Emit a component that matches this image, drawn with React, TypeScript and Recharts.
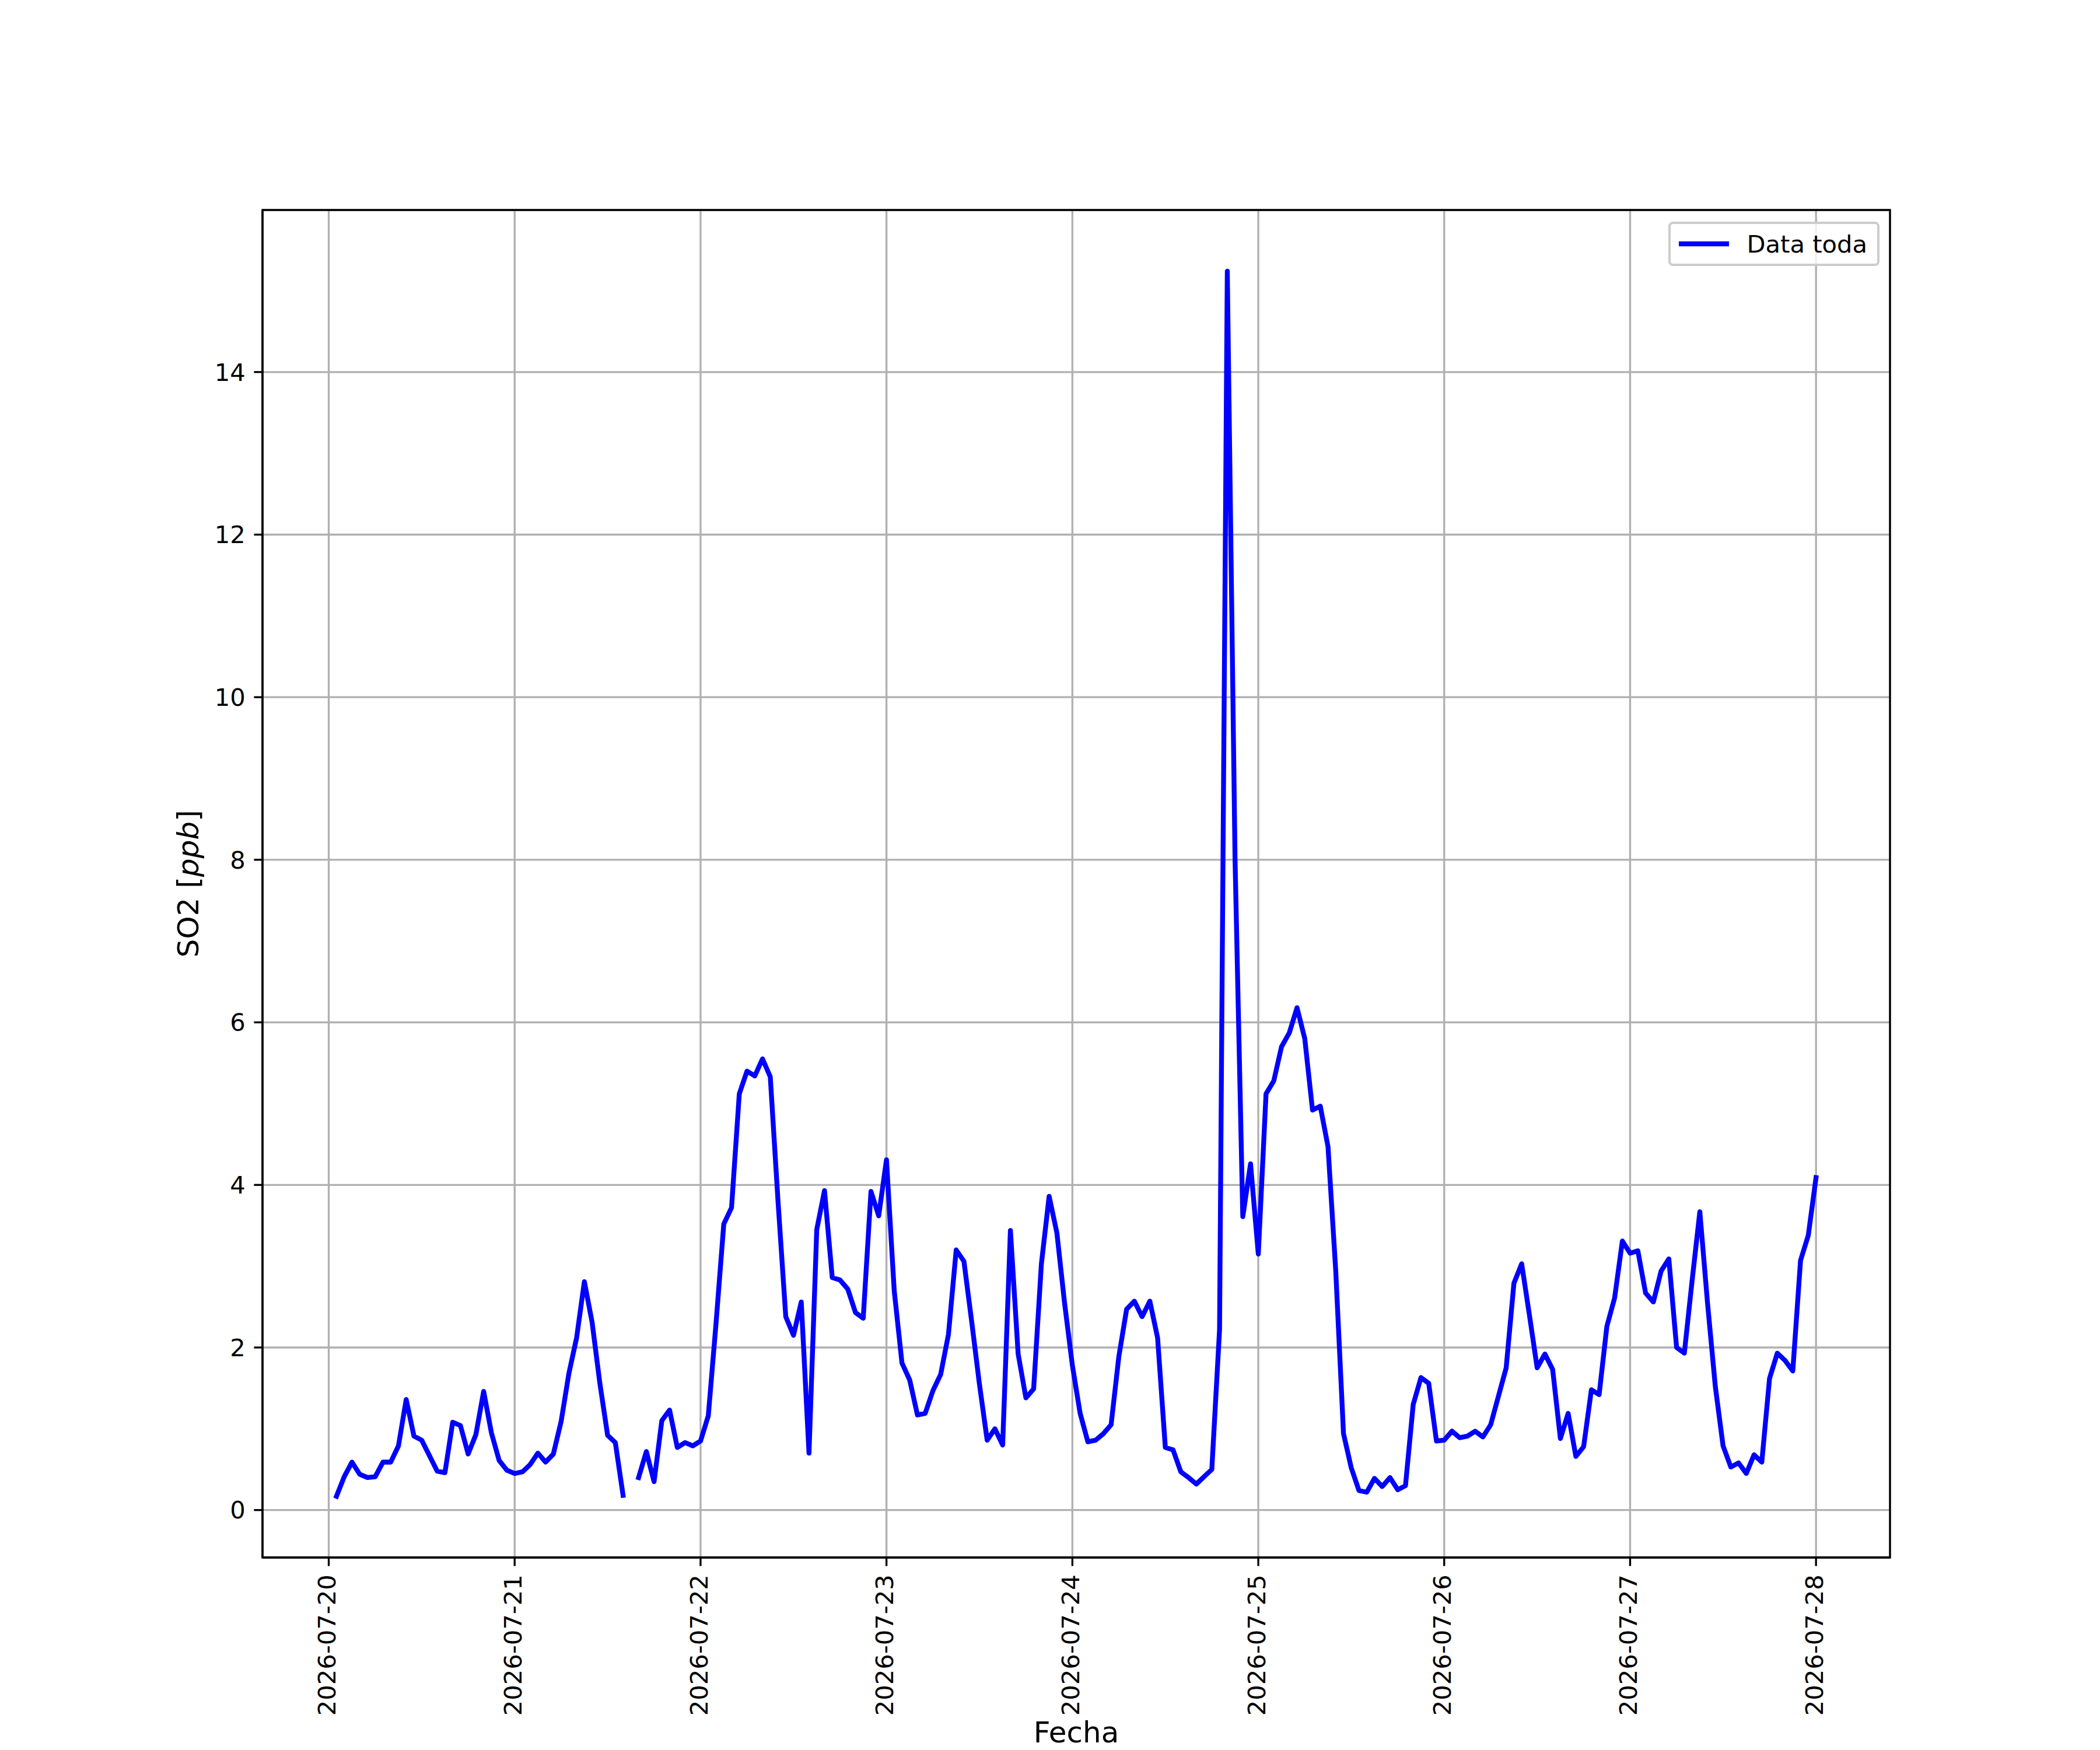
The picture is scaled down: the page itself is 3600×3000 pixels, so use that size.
import { LineChart, Line, XAxis, YAxis, CartesianGrid, Legend, ReferenceArea } from 'recharts';

const FONT = '"DejaVu Sans", sans-serif';
const FS = 41.67;
const LABEL_FS = 50;
const LINE_W = 8.33;

// hourly SO2 readings (ppb), one array per day, first value at 01:00
const jul20 = [0.17, 0.41, 0.59, 0.44, 0.40, 0.41, 0.59, 0.59, 0.79, 1.36, 0.91, 0.86, 0.67, 0.48, 0.46, 1.08, 1.04, 0.69, 0.93, 1.46, 0.95, 0.61, 0.49, 0.45];
const jul21 = [0.47, 0.56, 0.70, 0.59, 0.69, 1.09, 1.68, 2.12, 2.81, 2.31, 1.56, 0.92, 0.83, 0.18, null, 0.40, 0.72, 0.35, 1.10, 1.23, 0.77, 0.83, 0.79, 0.85];
const jul22 = [1.16, 2.30, 3.52, 3.72, 5.12, 5.40, 5.34, 5.55, 5.33, 3.80, 2.38, 2.15, 2.56, 0.70, 3.45, 3.93, 2.86, 2.83, 2.72, 2.43, 2.36, 3.92, 3.62, 4.31];
const jul23 = [2.70, 1.81, 1.60, 1.17, 1.19, 1.47, 1.67, 2.16, 3.20, 3.06, 2.32, 1.55, 0.86, 1.00, 0.80, 3.44, 1.92, 1.38, 1.49, 3.03, 3.86, 3.41, 2.54, 1.78];
const jul24 = [1.19, 0.84, 0.86, 0.94, 1.05, 1.89, 2.47, 2.57, 2.38, 2.57, 2.12, 0.77, 0.74, 0.47, 0.40, 0.32, 0.41, 0.50, 2.22, 15.24, 8.00, 3.61, 4.26, 3.15];
const jul25 = [5.12, 5.28, 5.70, 5.87, 6.18, 5.80, 4.92, 4.97, 4.47, 2.94, 0.94, 0.52, 0.24, 0.22, 0.39, 0.29, 0.40, 0.25, 0.30, 1.30, 1.63, 1.56, 0.85, 0.86];
const jul26 = [0.97, 0.89, 0.91, 0.97, 0.90, 1.05, 1.40, 1.75, 2.79, 3.03, 2.40, 1.75, 1.92, 1.73, 0.88, 1.19, 0.66, 0.78, 1.48, 1.42, 2.26, 2.61, 3.31, 3.16];
const jul27 = [3.19, 2.67, 2.56, 2.94, 3.09, 2.00, 1.93, 2.82, 3.67, 2.54, 1.52, 0.79, 0.53, 0.58, 0.45, 0.68, 0.59, 1.62, 1.93, 1.84, 1.71, 3.07, 3.38, 4.09];

const dateLabels = ['2026-07-20', '2026-07-21', '2026-07-22', '2026-07-23', '2026-07-24', '2026-07-25', '2026-07-26', '2026-07-27', '2026-07-28'];
const yTicks = [0, 2, 4, 6, 8, 10, 12, 14];

const values = [...jul20, ...jul21, ...jul22, ...jul23, ...jul24, ...jul25, ...jul26, ...jul27];
// x = hours since 2026-07-20 00:00
const data = values.map((v, i) => ({ h: i + 1, so2: v }));
const xTicks = dateLabels.map((_, i) => i * 24);

// matplotlib-style 5% autoscale margins
const nums = values.filter((v): v is number => v !== null);
const xMin = 1, xMax = values.length;
const yMin = Math.min(...nums), yMax = Math.max(...nums);
const xPad = (xMax - xMin) * 0.05, yPad = (yMax - yMin) * 0.05;
const xDomain: [number, number] = [xMin - xPad, xMax + xPad];
const yDomain: [number, number] = [yMin - yPad, yMax + yPad];

const DateTick = (props: any) => {
  const { x, y, payload } = props;
  return (
    <text
      x={x}
      y={y}
      transform={`rotate(-90, ${x}, ${y})`}
      textAnchor="end"
      dy="0.28em"
      fontSize={FS}
      fontFamily={FONT}
      fill="#000"
    >
      {dateLabels[Math.round(payload.value / 24)]}
    </text>
  );
};

const YLabel = () => (
  <text
    x={340}
    y={1515}
    transform="rotate(-90, 340, 1515)"
    textAnchor="middle"
    fontSize={LABEL_FS}
    fontFamily={FONT}
    fill="#000"
  >
    SO2 [<tspan fontStyle="italic">ppb</tspan>]
  </text>
);

const LegendBox = () => (
  <div
    style={{
      boxSizing: 'border-box',
      border: '4px solid #cccccc',
      borderRadius: 8,
      background: 'rgba(255,255,255,0.8)',
      height: 76,
      padding: '0 17px 0 14px',
      display: 'flex',
      alignItems: 'center',
      fontFamily: FONT,
      fontSize: FS,
      color: '#000',
      whiteSpace: 'nowrap',
    }}
  >
    <svg width={86} height={20} style={{ display: 'block' }}>
      <line x1={0} y1={10} x2={86} y2={10} stroke="#0000ff" strokeWidth={LINE_W} />
    </svg>
    <span style={{ marginLeft: 31 }}>Data toda</span>
  </div>
);

export default function App() {
  return (
    <div style={{ position: 'absolute', left: 0, top: 0, width: 3600, height: 3000, background: '#fff' }}>
      <LineChart width={3600} height={3000} data={data} margin={{ top: 360, right: 360, bottom: 0, left: 0 }}>
        <CartesianGrid stroke="#b0b0b0" strokeWidth={3.33} />
        <XAxis
          dataKey="h"
          type="number"
          domain={xDomain}
          allowDataOverflow
          ticks={xTicks}
          interval={0}
          height={330}
          tickSize={14.6}
          tickMargin={14.6}
          tick={<DateTick />}
          axisLine={{ stroke: '#000', strokeWidth: 3.33 }}
          tickLine={{ stroke: '#000', strokeWidth: 3.33 }}
          label={{ value: 'Fecha', position: 'insideBottom', offset: 13, fill: '#000', fontSize: LABEL_FS, fontFamily: FONT }}
        />
        <YAxis
          type="number"
          domain={yDomain}
          allowDataOverflow
          ticks={yTicks}
          interval={0}
          width={450}
          tickSize={14.6}
          tickMargin={14.6}
          tick={{ fill: '#000', fontSize: FS, fontFamily: FONT }}
          axisLine={{ stroke: '#000', strokeWidth: 3.33 }}
          tickLine={{ stroke: '#000', strokeWidth: 3.33 }}
          label={{ content: () => <YLabel /> }}
        />
        <Line
          type="linear"
          dataKey="so2"
          name="Data toda"
          stroke="#0000ff"
          strokeWidth={LINE_W}
          strokeLinejoin="round"
          strokeLinecap="square"
          dot={false}
          activeDot={false}
          connectNulls={false}
          isAnimationActive={false}
        />
        <ReferenceArea
          x1={xDomain[0]}
          x2={xDomain[1]}
          y1={yDomain[0]}
          y2={yDomain[1]}
          fill="none"
          fillOpacity={0}
          stroke="#000"
          strokeWidth={3.33}
          ifOverflow="visible"
        />
        <Legend
          layout="horizontal"
          verticalAlign="middle"
          align="center"
          content={<LegendBox />}
          wrapperStyle={{ top: 380, right: 378, left: 'auto', width: 'auto', height: 'auto' }}
        />
      </LineChart>
    </div>
  );
}
